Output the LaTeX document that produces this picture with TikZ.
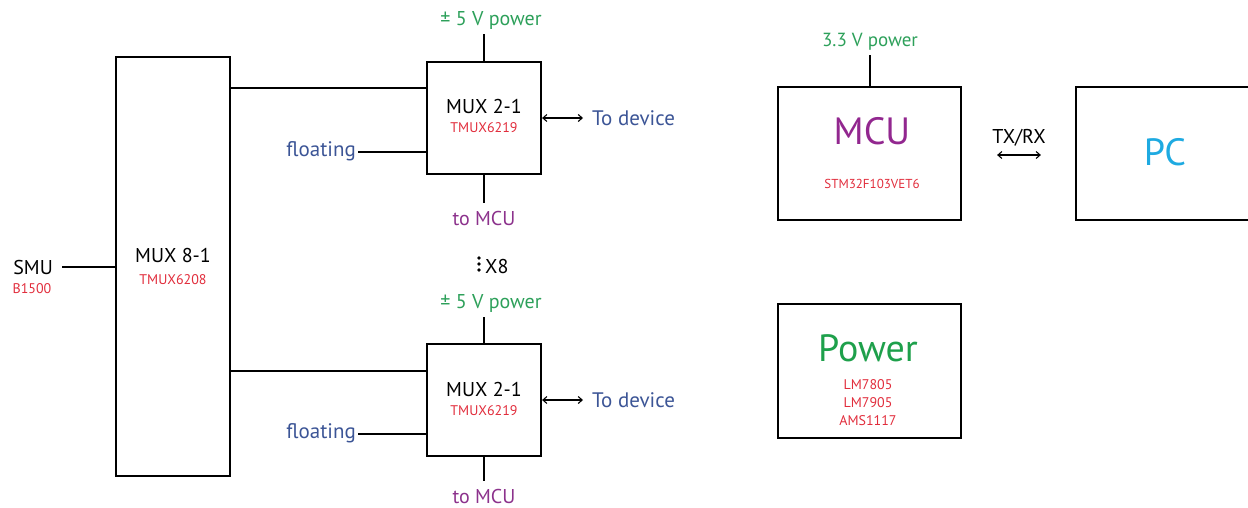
\documentclass[tikz,border=0pt]{standalone}
\usepackage{fontspec}
\setmainfont{PT Sans}
\usetikzlibrary{arrows.meta}
\definecolor{pgreen}{RGB}{45,160,90}
\definecolor{bgreen}{RGB}{30,160,75}
\definecolor{lblue}{RGB}{60,85,150}
\definecolor{lpurple}{RGB}{140,50,140}
\definecolor{bpurple}{RGB}{146,39,143}
\definecolor{lred}{RGB}{225,45,60}
\definecolor{lcyan}{RGB}{30,170,225}
\newcommand\fsz[1]{\fontsize{#1}{#1}\selectfont}
\begin{document}
\begin{tikzpicture}[x=1pt,y=-1pt,
  blk/.style={draw, line width=2.2pt, inner sep=0pt},
  wire/.style={line width=1.1pt},
  arr/.style={line width=1.1pt, {Straight Barb[length=4pt,width=7pt]}-{Straight Barb[length=4pt,width=7pt]}},
  lbl/.style={inner sep=0pt},
  main/.style={lbl, font=\fsz{20}},
  part/.style={lbl, font=\fsz{14}, text=lred},
  pwrl/.style={lbl, font=\fsz{20}, text=pgreen},
  sig/.style={lbl, font=\fsz{21}, text=lblue},
  mcul/.style={lbl, font=\fsz{20}, text=lpurple},
  big/.style={lbl, font=\fsz{38}}]
\useasboundingbox (0,0) rectangle (1248,507);

% MUX 8-1
\node[blk, minimum width=114pt, minimum height=419pt] (mux8) at (173,266.5) {};
\node[main] (m8t) at (173,255) {MUX 8-1};
\node[part] (m8p) at (173,280) {TMUX6208};

% SMU
\node[main, anchor=east] (smu) at (53,267) {SMU};
\node[part] (b15) at (32,289) {B1500};
\draw[wire, shorten <=9pt] (smu.east) -- (mux8.west |- smu.east);

% top MUX 2-1
\node[blk, minimum width=114pt, minimum height=112pt] (mxa) at (484,118) {};
\node[main] (mxat) at (484,106) {MUX 2-1};
\node[part] (mxap) at (484,128) {TMUX6219};
\node[pwrl] (pwa) at (491,20) {± 5 V power};
\node[mcul] (tma) at (484,218) {to MCU};
\node[sig, anchor=east] (fla) at (356,151) {floating};
\node[sig, anchor=west] (tda) at (592,118) {To device};
\coordinate (ya) at (0,88);
\draw[wire] (mux8.east |- ya) -- (mxa.west |- ya);
\draw[wire] ([xshift=2pt]fla.east |- 0,152) -- (mxa.west |- 0,152);
\draw[wire] (mxa.north) -- ([yshift=-5pt]mxa.north |- pwa.south);
\draw[wire] (mxa.south) -- ([yshift=8pt]tma.north);
\draw[arr, shorten >=9pt] (mxa.east) -- (tda.west);

% dots
\fill (479,258) circle (1.9pt) (479,264) circle (1.9pt) (479,270) circle (1.9pt);
\node[main, anchor=west] (x8) at (485,266) {X8};

% bottom MUX 2-1
\node[blk, minimum width=114pt, minimum height=112pt] (mxb) at (484,400) {};
\node[main] (mxbt) at (484,389) {MUX 2-1};
\node[part] (mxbp) at (484,411) {TMUX6219};
\node[pwrl] (pwb) at (491,303) {± 5 V power};
\node[mcul] (tmb) at (484,496) {to MCU};
\node[sig, anchor=east] (flb) at (356,433) {floating};
\node[sig, anchor=west] (tdb) at (592,400) {To device};
\coordinate (yb) at (0,371);
\draw[wire] (mux8.east |- yb) -- (mxb.west |- yb);
\draw[wire] ([xshift=2pt]flb.east |- 0,434) -- (mxb.west |- 0,434);
\draw[wire] (mxb.north) -- ([yshift=-5pt]mxb.north |- pwb.south);
\draw[wire] (mxb.south) -- ([yshift=8pt]tmb.north);
\draw[arr, shorten >=9pt] (mxb.east) -- (tdb.west);

% MCU
\node[blk, minimum width=183pt, minimum height=133pt] (mcu) at (869.5,153.5) {};
\node[big, text=bpurple] (mcut) at (872,131) {MCU};
\node[part, font=\fsz{13}] (stm) at (872,184) {STM32F103VET6};
\node[pwrl, font=\fsz{19}] (p33) at (870,42) {3.3 V power};
\draw[wire] (mcu.north -| p33) -- ([yshift=-4pt]p33.south);

% PC
\node[blk, minimum width=176pt, minimum height=133pt] (pc) at (1164,153.5) {};
\node[big, text=lcyan] (pct) at (1165,152) {PC};
\node[main] (txrx) at (1019,138) {TX/RX};
\coordinate (yt) at (0,155);
\draw[arr, shorten <=35pt, shorten >=34pt] (mcu.east |- yt) -- (pc.west |- yt);

% Power
\node[blk, minimum width=183pt, minimum height=134pt] (pwr) at (869.5,371) {};
\node[big, text=bgreen] (pwrt) at (868,348) {Power};
\node[part, align=center, font=\fontsize{14}{18}\selectfont] (reg) at (868,403) {LM7805\\LM7905\\AMS1117};
\end{tikzpicture}
\end{document}
